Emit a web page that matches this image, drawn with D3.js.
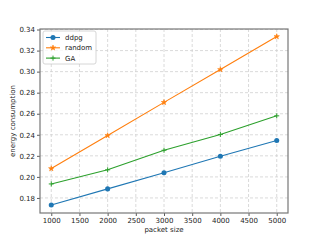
<!DOCTYPE html>
<html><head><meta charset="utf-8">
<script src="https://cdn.jsdelivr.net/npm/d3@7"></script>
<style>body{margin:0;background:#fff}svg{display:block}text{font-family:"DejaVu Sans",sans-serif}</style>
</head><body><svg id="c" width="320" height="240"></svg>
<script>
const packetSizes = [1000, 2000, 3000, 4000, 5000];
const ddpg = [0.1733, 0.1886, 0.2040, 0.2197, 0.2346];
const random = [0.2079, 0.2393, 0.2708, 0.3020, 0.3333];
const ga = [0.1933, 0.2067, 0.2253, 0.2403, 0.2580];
const xTicks = [1000, 1500, 2000, 2500, 3000, 3500, 4000, 4500, 5000];
const yTicks = [0.18, 0.20, 0.22, 0.24, 0.26, 0.28, 0.30, 0.32, 0.34];
const seriesNames = ["ddpg", "random", "GA"];
const colors = ["#1f77b4", "#ff7f0e", "#2ca02c"];

const svg = d3.select("#c");
const L = 40, R = 288, T = 29, B = 213;
const x = d3.scaleLinear().domain([800, 5200]).range([L, R]);
const y = d3.scaleLinear().domain([0.1657, 0.3405]).range([B, T]);

// grid
const g = svg.append("g");
g.selectAll(".gx").data(xTicks).enter().append("line")
  .attr("x1", d => x(d)).attr("x2", d => x(d)).attr("y1", T).attr("y2", B)
  .attr("stroke", "#d0d0d0").attr("stroke-width", 0.8).attr("stroke-dasharray", "3,2");
g.selectAll(".gy").data(yTicks).enter().append("line")
  .attr("y1", d => y(d)).attr("y2", d => y(d)).attr("x1", L).attr("x2", R)
  .attr("stroke", "#d0d0d0").attr("stroke-width", 0.8).attr("stroke-dasharray", "3,2");

// axes
const xAxis = svg.append("g").attr("transform", `translate(0,${B})`)
  .call(d3.axisBottom(x).tickValues(xTicks).tickSize(3).tickPadding(2).tickFormat(d3.format("d")));
const yAxis = svg.append("g").attr("transform", `translate(${L},0)`)
  .call(d3.axisLeft(y).tickValues(yTicks).tickSize(3).tickPadding(2).tickFormat(d3.format(".2f")));
[xAxis, yAxis].forEach(a => {
  a.select(".domain").remove();
  a.selectAll("line").attr("stroke", "#333").attr("stroke-width", 0.8);
  a.selectAll("text").attr("font-size", 7).attr("fill", "#222").attr("font-family", "DejaVu Sans");
});

// frame
svg.append("rect").attr("x", L).attr("y", T).attr("width", R - L).attr("height", B - T)
  .attr("fill", "none").attr("stroke", "#777").attr("stroke-width", 1.2);

// labels
svg.append("text").attr("x", (L + R) / 2).attr("y", 232).attr("text-anchor", "middle")
  .attr("font-size", 7).attr("fill", "#222").text("packet size");
svg.append("text").attr("transform", `translate(15,${(T + B) / 2}) rotate(-90)`)
  .attr("text-anchor", "middle").attr("font-size", 7).attr("fill", "#222").text("energy consumption");

const allSeries = [ddpg, random, ga];
const markers = [
  d3.symbol().type(d3.symbolCircle).size(20),
  d3.symbol().type(d3.symbolStar).size(9),
  null
];
const line = d3.line().x((d, i) => x(packetSizes[i])).y(d => y(d));

function drawMarker(sel, k, cx, cy) {
  if (k === 2) {
    sel.append("line").attr("x1", cx - 2.5).attr("x2", cx + 2.5).attr("y1", cy).attr("y2", cy)
      .attr("stroke", colors[k]).attr("stroke-width", 1);
    sel.append("line").attr("x1", cx).attr("x2", cx).attr("y1", cy - 2.5).attr("y2", cy + 2.5)
      .attr("stroke", colors[k]).attr("stroke-width", 1);
  } else {
    sel.append("path").attr("d", markers[k]()).attr("transform", `translate(${cx},${cy})`)
      .attr("fill", colors[k]).attr("stroke", colors[k]).attr("stroke-width", k === 1 ? 0.6 : 0);
  }
}

allSeries.forEach((s, k) => {
  svg.append("path").datum(s).attr("d", line).attr("fill", "none")
    .attr("stroke", colors[k]).attr("stroke-width", 1.1);
  const mg = svg.append("g");
  s.forEach((v, i) => drawMarker(mg, k, x(packetSizes[i]), y(v)));
});

// legend
const lg = svg.append("g");
lg.append("rect").attr("x", 43).attr("y", 31).attr("width", 53).attr("height", 33).attr("rx", 2)
  .attr("fill", "#fff").attr("fill-opacity", 0.8).attr("stroke", "#ccc").attr("stroke-width", 0.8);
seriesNames.forEach((n, k) => {
  const ly = 37.5 + k * 10.3;
  lg.append("line").attr("x1", 46).attr("x2", 60).attr("y1", ly).attr("y2", ly)
    .attr("stroke", colors[k]).attr("stroke-width", 1.1);
  drawMarker(lg, k, 53, ly);
  lg.append("text").attr("x", 65).attr("y", ly + 2.5).attr("font-size", 7).attr("fill", "#222").text(n);
});
</script></body></html>
